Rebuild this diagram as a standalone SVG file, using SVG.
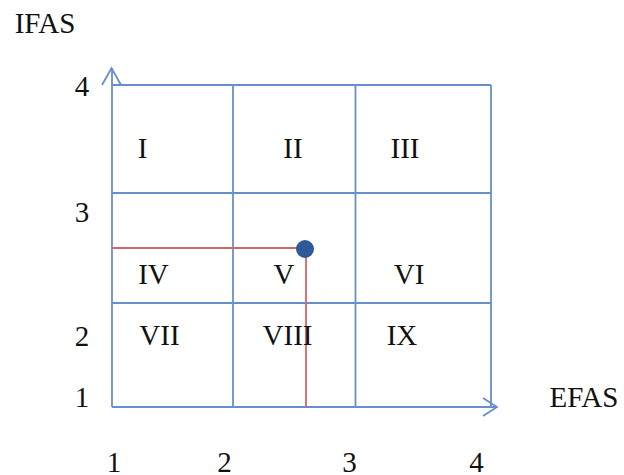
<svg xmlns="http://www.w3.org/2000/svg" width="624" height="475" viewBox="0 0 624 475">
  <style>
    .grid { stroke: #6790CB; stroke-width: 1.8; fill: none; }
    .red { stroke: #D0676A; stroke-width: 1.8; fill: none; }
    text { font-family: "Liberation Serif", "Times New Roman", serif; font-size: 29px; fill: #111; text-anchor: middle; }
  </style>
  <rect width="624" height="475" fill="#fff"/>
  <g id="grid">
    <line class="grid" x1="112" y1="85" x2="491" y2="85"/>
    <line class="grid" x1="112" y1="193" x2="491" y2="193"/>
    <line class="grid" x1="112" y1="303" x2="491" y2="303"/>
    <line class="grid" x1="233" y1="85" x2="233" y2="407"/>
    <line class="grid" x1="355.5" y1="85" x2="355.5" y2="407"/>
    <line class="grid" x1="491" y1="85" x2="491" y2="407"/>
  </g>
  <g id="connectors">
    <line class="grid" x1="112" y1="407" x2="112" y2="68"/>
    <polyline class="grid" points="102,85 111.5,68 121,85"/>
    <line class="grid" x1="112" y1="407" x2="497" y2="407"/>
    <polyline class="grid" points="483,398 497,407 483,416"/>
    <polyline class="red" points="112,248 306,248 306,407"/>
  </g>
  <g id="point">
    <circle cx="305" cy="249" r="9" fill="#2F5A98"/>
  </g>
  <g id="axis-labels">
    <text x="45" y="33">IFAS</text>
    <text x="584" y="407">EFAS</text>
    <text x="82" y="96">4</text>
    <text x="82" y="222">3</text>
    <text x="82" y="346">2</text>
    <text x="82" y="407">1</text>
    <text x="114" y="472">1</text>
    <text x="224.5" y="472">2</text>
    <text x="349.5" y="472">3</text>
    <text x="476.5" y="472">4</text>
  </g>
  <g id="cells">
    <text x="142.5" y="158">I</text>
    <text x="293" y="158">II</text>
    <text x="405" y="158">III</text>
    <text x="153.5" y="284">IV</text>
    <text x="284" y="284">V</text>
    <text x="409" y="284">VI</text>
    <text x="159.5" y="345">VII</text>
    <text x="287.5" y="345">VIII</text>
    <text x="402" y="345">IX</text>
  </g>
</svg>
